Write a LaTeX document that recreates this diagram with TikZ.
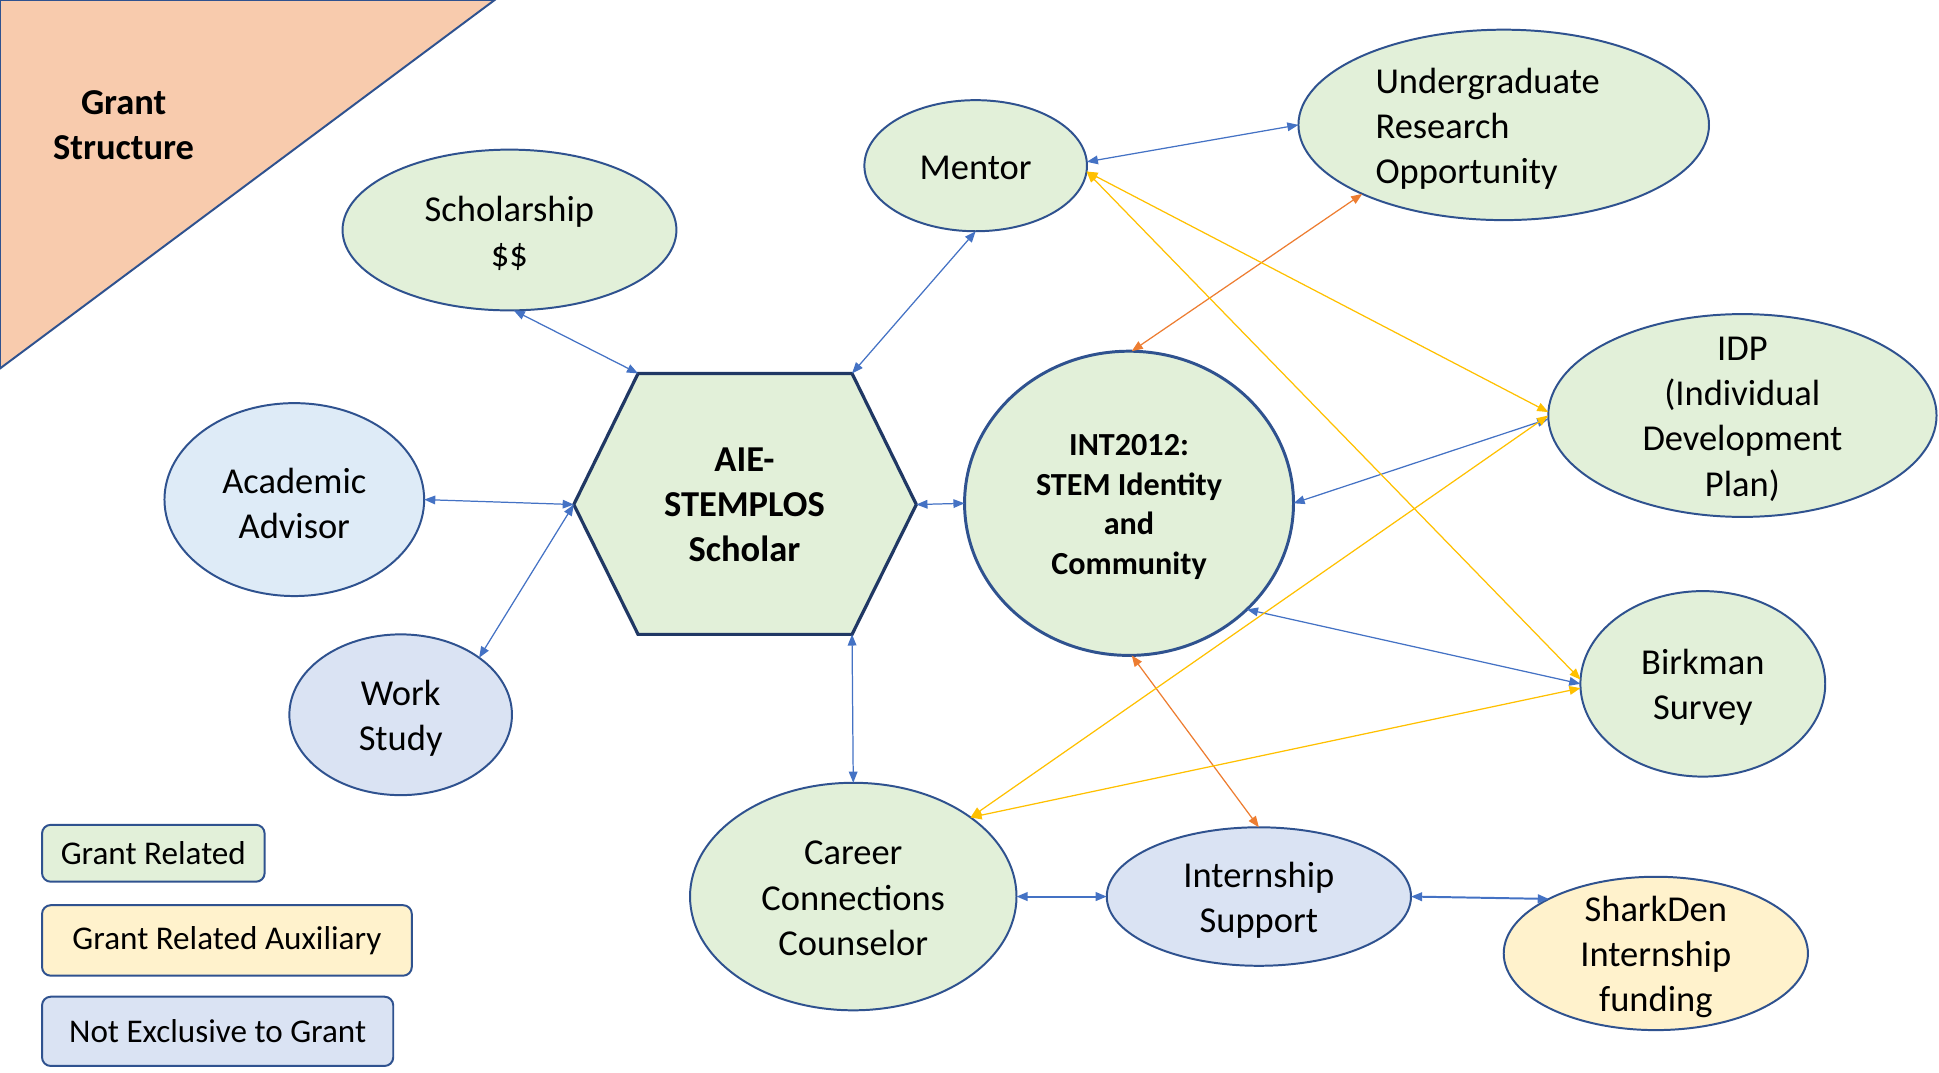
\documentclass[tikz,border=0pt]{standalone}
\usepackage{fontspec}
\setmainfont{Carlito}
\usetikzlibrary{shapes.geometric,arrows.meta}
\definecolor{gfill}{HTML}{E2F0D9}
\definecolor{afill}{HTML}{DEEBF7}
\definecolor{nfill}{HTML}{DAE3F3}
\definecolor{yfill}{HTML}{FFF2CC}
\definecolor{peach}{HTML}{F8CBAD}
\definecolor{bordc}{HTML}{2F528F}
\definecolor{hexc}{HTML}{203864}
\definecolor{arrblue}{HTML}{4472C4}
\definecolor{arrorange}{HTML}{ED7D31}
\definecolor{arryellow}{HTML}{FFC000}
\begin{document}
\begin{tikzpicture}[x=1pt,y=-1pt,
  bord/.style={draw=bordc, line width=1.6pt},
  ell/.style={ellipse, bord, inner sep=0pt, outer sep=0pt},
  lab/.style={align=center, yshift=-3pt, font=\fontsize{29.5}{36.5}\selectfont},
  legbox/.style={rectangle, rounded corners=7pt, bord, outer sep=0pt, inner sep=0pt,
    font=\fontsize{26.8}{32}\selectfont},
  conn/.style={line width=1pt,
    {Triangle[length=9pt,width=7pt]}-{Triangle[length=9pt,width=7pt]}},
  ab/.style={conn, draw=arrblue},
  abt/.style={conn, draw=arrblue, line width=1.6pt},
  ao/.style={conn, draw=arrorange},
  ay/.style={conn, draw=arryellow}
]
\useasboundingbox (0,0) rectangle (1568,866.9);

% grant structure triangle
\filldraw[fill=peach, draw=bordc, line width=1.6pt] (0,0) -- (400,0) -- (0,298) -- cycle;
\node[align=center, font=\bfseries\fontsize{29.5}{36.5}\selectfont] (gs) at (100,101) {Grant\\Structure};

% hexagon
\coordinate (hTL) at (516,302);
\coordinate (hTR) at (689,302);
\coordinate (hR) at (741,408);
\coordinate (hBR) at (689,513);
\coordinate (hBL) at (516,513);
\coordinate (hL) at (464,408);
\filldraw[fill=gfill, draw=hexc, line width=2.6pt] (hTL) -- (hTR) -- (hR) -- (hBR) -- (hBL) -- (hL) -- cycle;
\node[align=center, font=\bfseries\fontsize{29.5}{36.5}\selectfont] (hex) at (602,408) {AIE-\\STEMPLOS\\Scholar};

% ellipses
\node[ell, fill=gfill, minimum width=270, minimum height=130,
  label={[lab]center:{Scholarship\\\$\$}}] (schol) at (412,186) {};
\node[ell, fill=gfill, minimum width=180, minimum height=106,
  label={[lab, yshift=1.5pt]center:{Mentor}}] (mentor) at (789,134) {};
\node[ell, fill=gfill, minimum width=332, minimum height=154,
  label={[lab, align=left, xshift=-13pt]center:{Undergraduate\\Research\\Opportunity}}] (ugr) at (1216,101) {};
\node[ell, fill=gfill, minimum width=314, minimum height=164,
  label={[lab]center:{IDP\\(Individual\\Development\\Plan)}}] (idp) at (1409,336) {};
\node[ell, fill=afill, minimum width=210, minimum height=156,
  label={[lab]center:{Academic\\Advisor}}] (acad) at (238,404) {};
\node[ell, fill=gfill, minimum width=266, minimum height=246, line width=2.4pt,
  label={[lab, font=\bfseries\fontsize{26}{32}\selectfont]center:{INT2012:\\STEM Identity\\and\\Community}}] (int) at (913,407) {};
\node[ell, fill=nfill, minimum width=180, minimum height=130,
  label={[lab]center:{Work\\Study}}] (work) at (324,578) {};
\node[ell, fill=gfill, minimum width=198, minimum height=150,
  label={[lab]center:{Birkman\\Survey}}] (birk) at (1377,553) {};
\node[ell, fill=gfill, minimum width=264, minimum height=184,
  label={[lab, yshift=1.5pt]center:{Career\\Connections\\Counselor}}] (career) at (690,725) {};
\node[ell, fill=nfill, minimum width=246, minimum height=112,
  label={[lab]center:{Internship\\Support}}] (intern) at (1018,725) {};
\node[ell, fill=yfill, minimum width=246, minimum height=124,
  label={[lab]center:{SharkDen\\Internship\\funding}}] (shark) at (1339,771) {};

% legend
\node[legbox, fill=gfill, minimum width=180, minimum height=46] (l1) at (124,690) {Grant Related};
\node[legbox, fill=yfill, minimum width=299, minimum height=57] (l2) at (183.5,760.5) {Grant Related Auxiliary};
\node[legbox, fill=nfill, minimum width=284, minimum height=56] (l3) at (176,834) {Not Exclusive to Grant};

% connectors
\draw[ab] (schol.-87) -- (hTL);
\draw[ab] (mentor.-90) -- (hTR);
\draw[ab] (acad.0) -- (hL);
\draw[ab] (work.36) -- (hL);
\draw[ab] (hR) -- (int.180);
\draw[ab] (hBR) -- (career.90);
\draw[abt] (career.0) -- (intern.180);
\draw[abt] (intern.0) -- (shark.153);
\draw[ab] (mentor.2) -- (ugr.180);
\draw[ab] (idp.181) -- (int.0);
\draw[ab] (birk.180) -- (int.-42);
\draw[ao] (ugr.-154) -- (int.89);
\draw[ao] (int.-89) -- (intern.90);
\draw[ay] (mentor.-3) -- (idp.179);
\draw[ay] (mentor.-3) -- (birk.178);
\draw[ay] (career.34) -- (idp.180);
\draw[ay] (career.34) -- (birk.182);
\end{tikzpicture}
\end{document}
